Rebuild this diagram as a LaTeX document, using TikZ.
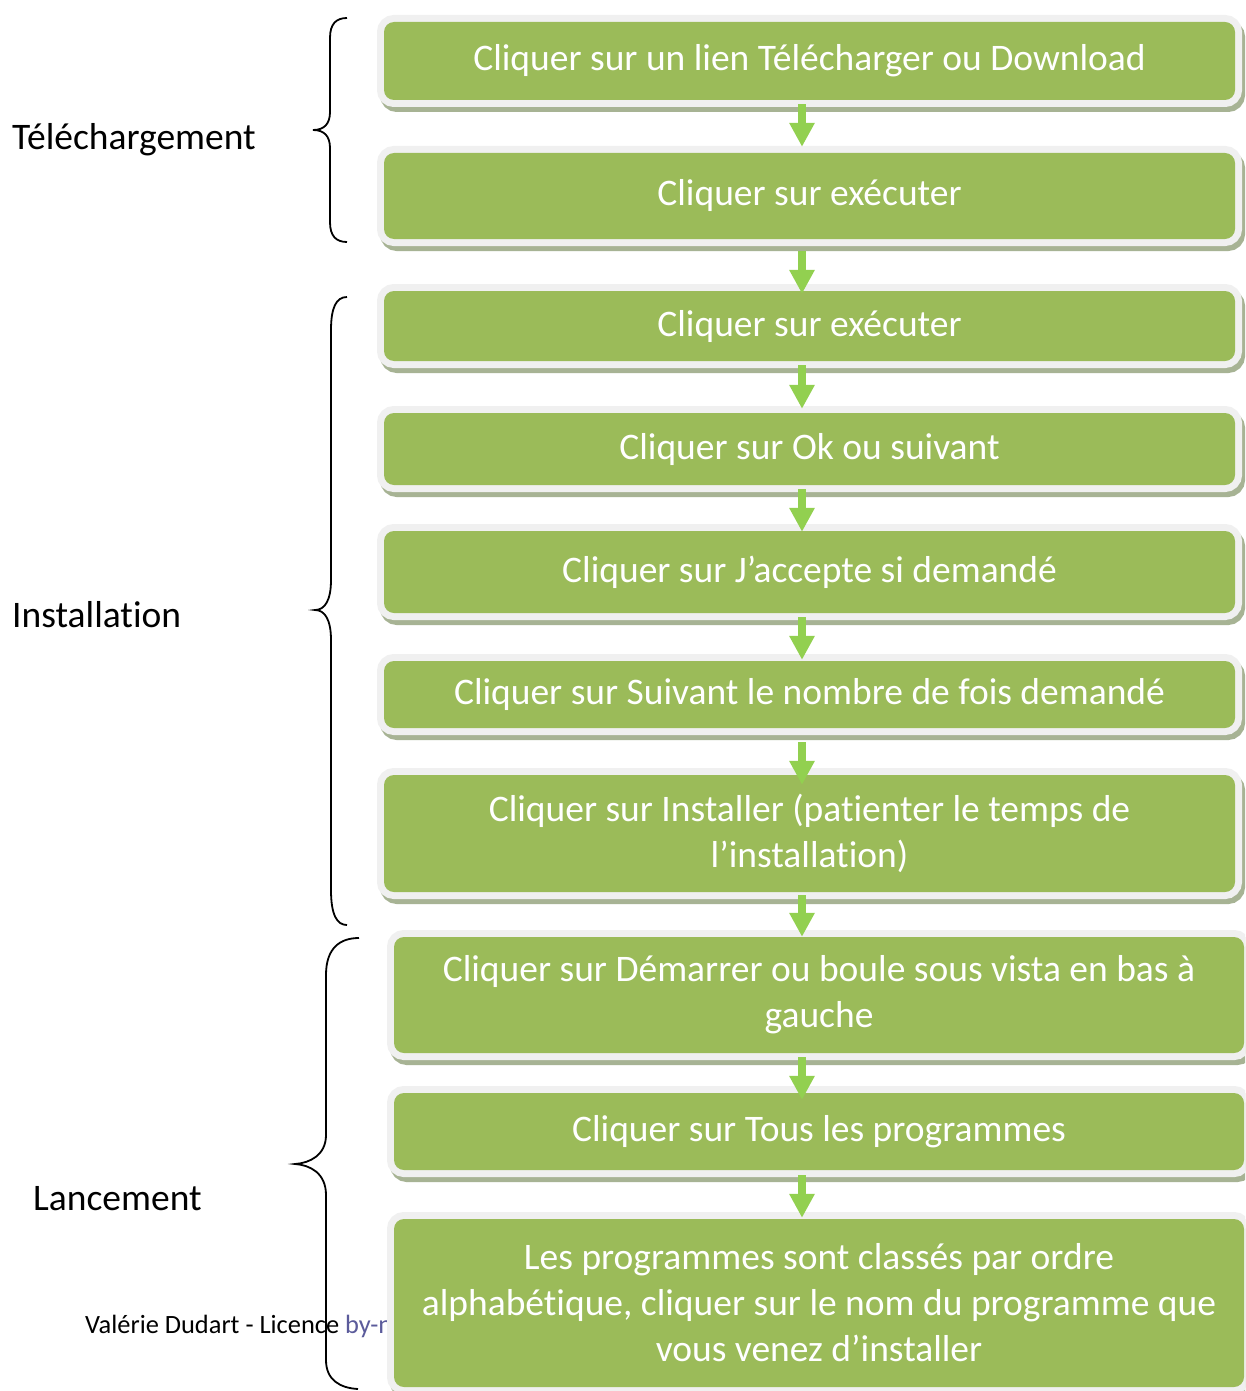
\documentclass[tikz,border=0pt]{standalone}
\usepackage{fontspec}
\setmainfont[Ligatures=NoCommon]{Carlito}
\usetikzlibrary{arrows.meta,calc}
\definecolor{boxgreen}{HTML}{9BBB59}
\definecolor{framecol}{HTML}{F0F0F0}
\definecolor{shadowcol}{HTML}{A7B394}
\definecolor{arrowgreen}{HTML}{92D050}
\definecolor{linkcol}{HTML}{5B5B9B}
\begin{document}
\begin{tikzpicture}[x=1pt,y=-1pt,
  stepbox/.style={rounded corners=10pt, fill=boxgreen, text=white, align=center, inner sep=0pt,
    font=\fontsize{37.5}{46}\selectfont,
    preaction={fill=shadowcol, draw=shadowcol, line width=14pt, transform canvas={xshift=3pt,yshift=-5pt}},
    preaction={fill=framecol, draw=framecol, line width=14pt}},
  flow/.style={draw=arrowgreen, line width=8.5pt, -{Triangle[width=24pt,length=24pt]}},
  bracepath/.style={draw=black, line width=1.8pt},
  lbl/.style={font=\fontsize{37.5}{46}\selectfont, anchor=base west, inner sep=0pt}]
\useasboundingbox (0,0) rectangle (1245,1391);
\clip (0,0) rectangle (1245,1391);
\fill[white] (0,0) rectangle (1245,1391);

% footer (partly hidden by the last box)
\node[anchor=base west, inner sep=0pt, font=\fontsize{26.4}{30}\selectfont] (foot) at (85,1333)
  {Valérie Dudart - Licence \textcolor{linkcol}{by-n}};

% boxes
\node[stepbox, minimum width=851pt, minimum height=78pt] (b1) at (809.5,61) {Cliquer sur un lien Télécharger ou Download};
\node[stepbox, minimum width=851pt, minimum height=86pt] (b2) at (809.5,196) {Cliquer sur exécuter};
\node[stepbox, minimum width=851pt, minimum height=70pt] (b3) at (809.5,326) {Cliquer sur exécuter};
\node[stepbox, minimum width=851pt, minimum height=72pt] (b4) at (809.5,449) {Cliquer sur Ok ou suivant};
\node[stepbox, minimum width=851pt, minimum height=82pt] (b5) at (809.5,572) {Cliquer sur J’accepte si demandé};
\node[stepbox, minimum width=851pt, minimum height=67pt] (b6) at (809.5,694.5) {Cliquer sur Suivant le nombre de fois demandé};
\node[stepbox, minimum width=851pt, minimum height=117pt] (b7) at (809.5,833.5) {Cliquer sur Installer (patienter le temps de\\l’installation)};
\node[stepbox, minimum width=850pt, minimum height=116pt] (b8) at (819,995) {Cliquer sur Démarrer ou boule sous vista en bas à\\gauche};
\node[stepbox, minimum width=850pt, minimum height=77pt] (b9) at (819,1131.5) {Cliquer sur Tous les programmes};
\node[stepbox, minimum width=850pt, minimum height=168pt] (b10) at (819,1303) {Les programmes sont classés par ordre\\alphabétique, cliquer sur le nom du programme que\\vous venez d’installer};

% braces
\draw[bracepath] (347,18) .. controls (336,18) and (330,24) .. (330,38) -- (330,112)
  .. controls (330,124) and (324,130) .. (313,130)
  .. controls (324,130) and (330,136) .. (330,148) -- (330,222)
  .. controls (330,236) and (336,242) .. (347,242);
\draw[bracepath] (347,297) .. controls (336,297) and (331,308) .. (331,330) -- (331,580)
  .. controls (331,600) and (325,610) .. (315,610)
  .. controls (325,610) and (331,620) .. (331,640) -- (331,890)
  .. controls (331,915) and (337,925) .. (347,925);
\draw[bracepath] (359,938) .. controls (340,938) and (326,948) .. (326,975) -- (326,1135)
  .. controls (326,1155) and (310,1163) .. (295,1164)
  .. controls (310,1165) and (326,1173) .. (326,1195) -- (326,1360)
  .. controls (326,1380) and (340,1388) .. (358,1389);

% labels
\node[lbl] (lt) at (12,150) {Téléchargement};
\node[lbl] (li) at (12,627) {Installation};
\node[lbl] (ll) at (33,1210) {Lancement};

% arrows
\coordinate (ax) at (802,0);
\draw[flow] ($(b1.south -| ax)+(0,4)$) -- ($(b2.north -| ax)+(0,-6)$);
\draw[flow] ($(b2.south -| ax)+(0,12)$) -- ($(b3.north -| ax)+(0,3)$);
\draw[flow] ($(b3.south -| ax)+(0,4)$) -- ($(b4.north -| ax)+(0,-4)$);
\draw[flow] ($(b4.south -| ax)+(0,4)$) -- ($(b5.north -| ax)+(0,1)$);
\draw[flow] ($(b5.south -| ax)+(0,4)$) -- ($(b6.north -| ax)+(0,-1)$);
\draw[flow] ($(b6.south -| ax)+(0,14)$) -- ($(b7.north -| ax)+(0,10)$);
\draw[flow] ($(b7.south -| ax)+(0,3)$) -- ($(b8.north -| ax)+(0,0)$);
\draw[flow] ($(b8.south -| ax)+(0,4)$) -- ($(b9.north -| ax)+(0,7)$);
\draw[flow] ($(b9.south -| ax)+(0,5)$) -- ($(b10.north -| ax)+(0,-1)$);
\end{tikzpicture}
\end{document}
